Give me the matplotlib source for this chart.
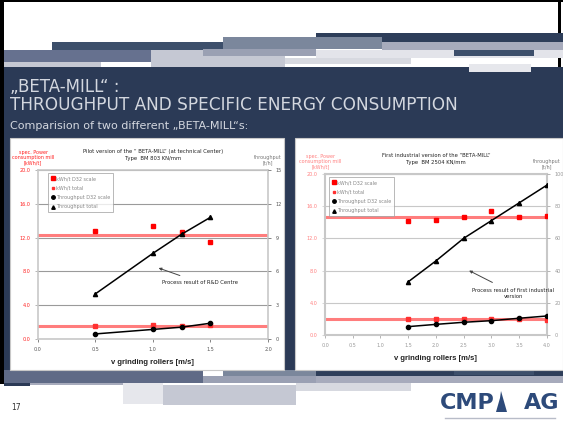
import numpy as np
import matplotlib.pyplot as plt
from matplotlib.patches import Rectangle, Polygon
from matplotlib.lines import Line2D

# Pilot version (technical centre)
speed_pilot = [0.5, 1.0, 1.25, 1.5]
kwh_d32_pilot = [12.8, 13.4, 12.7, 11.5]
kwh_total_pilot = [1.5, 1.6, 1.5, 1.6]
tp_d32_pilot = [0.45, 0.85, 1.05, 1.4]
tp_total_pilot = [4.0, 7.6, 9.3, 10.8]
level_pilot = [12.3, 1.55]

# First industrial version
speed_ind = [1.5, 2.0, 2.5, 3.0, 3.5, 4.0]
kwh_d32_ind = [14.2, 14.3, 14.6, 15.4, 14.7, 14.8]
kwh_total_ind = [1.95, 1.95, 1.95, 1.95, 1.95, 1.9]
tp_d32_ind = [5.2, 6.6, 7.9, 8.9, 10.4, 11.8]
tp_total_ind = [33, 46, 60, 71, 82, 93]
level_ind = [14.6, 1.95]

legend_labels = ["kWh/t D32 scale", "kWh/t total", "Throughput D32 scale", "Throughput total"]

W, H = 563, 424
fig = plt.figure(figsize=(W / 100, H / 100), dpi=100)
fig.patch.set_facecolor("white")

# slide background drawn in pixel coordinates
bg = fig.add_axes([0, 0, 1, 1], zorder=0)
bg.set_xlim(0, W)
bg.set_ylim(H, 0)
bg.axis("off")

def box(x0, y0, x1, y1, color, **kw):
    bg.add_patch(Rectangle((x0, y0), x1 - x0, y1 - y0, facecolor=color, edgecolor=kw.pop("ec", "none"), **kw))

# frame
box(0, 0, 4, 384, "black")
box(0, 0, W, 2, "black")
box(558, 0, 561, 67, "black")

# decorative bars on top
box(52, 42, 223, 50, "#3d4f6b")
box(4, 50, 151, 62, "#66718f")
box(4, 62, 101, 67, "#c5c8d3")
box(151, 50, 285, 67, "#c5c8d3")
box(316, 33, 563, 42, "#2e3e5a")
box(382, 42, 563, 50, "#a7abbc")
box(223, 37, 382, 49, "#7b879c")
box(203, 49, 316, 56, "#9aa0b3")
box(316, 50, 563, 58, "#e3e4ea")
box(285, 58, 411, 64, "#d7d9e0")
box(454, 50, 534, 56, "#3d4f6b")

# navy panel
box(4, 67, W, 370, "#2b3a56")
box(469, 64, 531, 72, "#e6e7ec")

# bottom bars
box(4, 370, 203, 383, "#5f6a86")
box(223, 370, 316, 376, "#7b879c")
box(203, 376, 316, 383, "#9aa0b3")
box(316, 370, W, 376, "#2e3e5a")
box(316, 376, W, 383, "#a7abbc")
box(454, 370, 534, 375, "#3d4f6b")
box(4, 383, 30, 386, "#2b3a56")
box(30, 383, 123, 385, "#a7abbc")
box(123, 383, 163, 404, "#e6e7ec")
box(163, 385, 296, 405, "#c5c8d3")
box(296, 383, 411, 391, "#d7d9e0")

# chart panels
box(10, 138, 284, 370, "white", ec="#c8c8c8", lw=0.8)
box(295, 138, 563, 370, "white", ec="#c8c8c8", lw=0.8)

# heading texts
txt = "#d3d7df"
bg.text(10, 87, "\u201eBETA-MILL\u201c :", color=txt, fontsize=12, va="center", family="DejaVu Sans")
bg.text(10, 105, "THROUGHPUT AND SPECIFIC ENERGY CONSUMPTION", color=txt, fontsize=12.2,
        va="center", family="DejaVu Sans")
bg.text(10, 126, "Comparision of two different \u201eBETA-MILL\u201cs:", color=txt, fontsize=8,
        va="center", family="DejaVu Sans")

# footer
bg.text(11, 408, "17", fontsize=5.5, color="#333333", va="center")
bg.text(440, 403, "CMP", fontsize=16, fontweight="bold", color="#2d4a7a", va="center", family="DejaVu Sans")
bg.text(559, 403, "AG", fontsize=16, fontweight="bold", color="#2d4a7a", va="center", ha="right",
        family="DejaVu Sans")
bg.add_patch(Polygon([[496, 412], [500, 398], [501, 391], [503, 398], [507, 412]], closed=True,
                     facecolor="#2d4a7a"))
bg.plot([445, 555], [418, 418], color="#b8bcc8", lw=1)


def draw_chart(rect, speed, kwh_d32, kwh_total, tp_d32, tp_total, level, xmax, y2max, y2step,
               title, note, note_xy, arrow_xy, leg_anchor, faded):
    ax = fig.add_axes(rect, zorder=2)
    ax2 = ax.twinx()
    ax.set_zorder(2)
    ax2.set_zorder(3)
    ax.patch.set_alpha(0)
    ax2.patch.set_alpha(0)

    grid_c = "#c8c8c8" if faded else "#9a9a9a"
    red_t = "#ff8080" if faded else "#ff2020"
    tick_c = "#999999" if faded else "#555555"

    ax.set_xlim(0, xmax)
    ax.set_ylim(0, 20)
    ax.set_xticks(np.arange(0, xmax + 0.01, 0.5))
    ax.set_xticklabels([f"{v:.1f}" for v in np.arange(0, xmax + 0.01, 0.5)])
    ax.set_yticks(np.arange(0, 21, 4))
    ax.set_yticklabels([f"{v:.1f}" for v in np.arange(0, 21, 4)])
    ax.yaxis.grid(True, color=grid_c, lw=0.8)
    ax.set_axisbelow(True)
    ax.tick_params(axis="x", labelsize=3.5, colors=tick_c, length=2, width=0.5, pad=4)
    ax.tick_params(axis="y", labelsize=3.5, labelcolor=red_t, color=grid_c, length=2, width=0.5)
    for s in ax.spines.values():
        s.set_color("#c8c8c8")
        s.set_linewidth(1.5 if faded else 1.2)
    ax2.set_ylim(0, y2max)
    ax2.set_yticks(np.arange(0, y2max + 0.01, y2step))
    ax2.tick_params(axis="y", labelsize=3.5, colors=tick_c, length=2, width=0.5)
    for s in ax2.spines.values():
        s.set_visible(False)

    # average levels of specific energy consumption
    for lv in level:
        ax.axhline(lv, color="#ff6666", lw=2.2, alpha=0.85, zorder=1)

    ax.plot(speed, kwh_d32, "s", color="red", ms=3.5, ls="none", zorder=4)
    ax.plot(speed, kwh_total, "s", color="#ff3030", ms=2.2, ls="none", zorder=4)
    ax2.plot(speed, tp_d32, "-o", color="black", ms=3, lw=1.1)
    ax2.plot(speed, tp_total, "-^", color="black", ms=3, lw=1.1)

    ax.set_xlabel("v grinding rollers [m/s]", fontsize=5.5, fontweight="bold", family="Liberation Sans",
                  labelpad=5, color="#222222")
    ax.set_title(title, fontsize=3.8, pad=7, color="#222222", linespacing=1.6)
    ax.text(-0.02, 1.03, "spec. Power\nconsumption mill\n[kWh/t]", transform=ax.transAxes,
            fontsize=3.5, color=red_t, ha="center", va="bottom", linespacing=1.0)
    ax.text(1.0, 1.03, "throughput\n[t/h]", transform=ax.transAxes, fontsize=3.5, color="#777777",
            ha="center", va="bottom", linespacing=1.0)

    ax2.annotate(note, xy=arrow_xy, xytext=note_xy, fontsize=3.8, ha="center", va="center",
                 color="#222222", arrowprops=dict(arrowstyle="-|>", color="#444444", lw=0.7,
                                                  mutation_scale=4, shrinkA=4, shrinkB=0))

    handles = [
        Line2D([], [], marker="s", color="red", ls="none", ms=3),
        Line2D([], [], marker="s", color="#ff3030", ls="none", ms=2),
        Line2D([], [], marker="o", color="black", ls="none", ms=2.5),
        Line2D([], [], marker="^", color="black", ls="none", ms=2.5),
    ]
    leg = ax2.legend(handles, legend_labels, loc="upper left", bbox_to_anchor=leg_anchor, fontsize=3.5,
                     frameon=True, fancybox=False, edgecolor="#999999", handlelength=0.6,
                     handletextpad=0.3, borderpad=0.6, labelspacing=0.9, labelcolor="#888888")
    leg.get_frame().set_linewidth(0.6)
    return ax, ax2


draw_chart([37.7 / W, 1 - 339 / H, 230.3 / W, 169 / H],
           speed_pilot, kwh_d32_pilot, kwh_total_pilot, tp_d32_pilot, tp_total_pilot, level_pilot,
           2.0, 15, 3,
           "Pilot version of the \u201c BETA-MILL\u201c (at technical Center)\nType  BM 803 KN/mm",
           "Process result of R&D Centre", (1.41, 5.0), (1.05, 6.3), (0.036, 0.995), False)

draw_chart([325 / W, 1 - 335 / H, 221.7 / W, 161 / H],
           speed_ind, kwh_d32_ind, kwh_total_ind, tp_d32_ind, tp_total_ind, level_ind,
           4.0, 100, 20,
           "First industrial version of the \u201cBETA-MILL\u201c\nType  BM 2504 KN/mm",
           "Process result of first industrial\nversion", (3.4, 26), (2.6, 40), (0.009, 0.995), True)

fig.savefig("out.png", dpi=100)
